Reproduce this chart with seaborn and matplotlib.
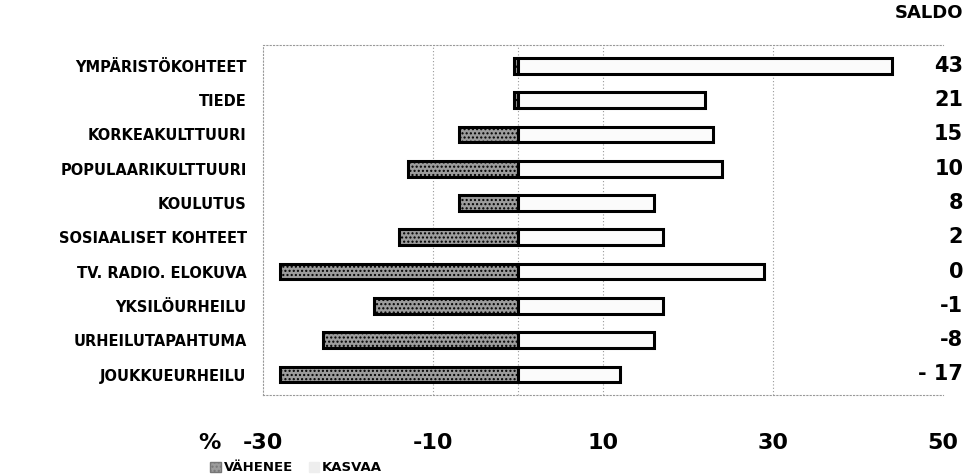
import matplotlib
matplotlib.use("Agg")
import matplotlib.pyplot as plt
import seaborn as sns
import pandas as pd
from matplotlib.patches import Patch

categories = ["YMPÄRISTÖKOHTEET", "TIEDE", "KORKEAKULTTUURI", "POPULAARIKULTTUURI",
              "KOULUTUS", "SOSIAALISET KOHTEET", "TV. RADIO. ELOKUVA", "YKSILÖURHEILU",
              "URHEILUTAPAHTUMA", "JOUKKUEURHEILU"]
vahenee = [0.5, 0.5, 7, 13, 7, 14, 28, 17, 23, 28]
kasvaa = [44, 22, 23, 24, 16, 17, 29, 17, 16, 12]
saldo = ["43", "21", "15", "10", "8", "2", "0", "-1", "-8", "- 17"]
xticks = [-30, -10, 10, 30, 50]

sns.set_theme(style="white")
plt.rcParams['font.family'] = ['DejaVu Sans']
plt.rcParams['text.color'] = 'black'
plt.rcParams['xtick.color'] = 'black'
plt.rcParams['ytick.color'] = 'black'

df = pd.DataFrame({"cat": categories, "dec": [-v for v in vahenee], "inc": kasvaa})

fig = plt.figure(figsize=(9.68, 4.76), dpi=100)
ax = fig.add_axes([0.272, 0.170, 0.702, 0.735])

sns.barplot(data=df, x="dec", y="cat", orient="h", color="#9c9c9c", edgecolor="black",
            linewidth=2.2, width=0.46, ax=ax, saturation=1, hatch="....")
sns.barplot(data=df, x="inc", y="cat", orient="h", color="#fbfbfb", edgecolor="black",
            linewidth=2.2, width=0.46, ax=ax, saturation=1)

ax.set_xlim(-30, 50)
ax.set_ylim(9.6, -0.6)
ax.set_xticks(xticks)
ax.set_xticklabels([str(t) for t in xticks], fontsize=16, fontweight="bold", color="black")
ax.tick_params(axis="x", length=0, pad=27)
ax.tick_params(axis="y", length=0, pad=12)
for lab in ax.get_yticklabels():
    lab.set_fontsize(10.5)
    lab.set_fontweight("bold")
    lab.set_color("black")
ax.set_xlabel("")
ax.set_ylabel("")
for x in [-10, 0, 10, 30]:
    ax.axvline(x, color="#999999", linestyle=(0, (1, 2)), linewidth=0.8, zorder=0)
for s in ax.spines.values():
    s.set_linestyle((0, (1, 2)))
    s.set_color("#999999")
    s.set_linewidth(0.8)
ax.spines["right"].set_visible(False)

fig.text(0.205, 0.069, "%", fontsize=16, fontweight="bold", ha="left", va="center", color="black")

fig.text(0.995, 0.972, "SALDO", fontsize=13, fontweight="bold", ha="right", va="center", color="black")
for i, s in enumerate(saldo):
    ax.text(1.03, i, s, transform=ax.get_yaxis_transform(), fontsize=15,
            fontweight="bold", ha="right", va="center", color="black")

handles = [Patch(facecolor="#9c9c9c", hatch="....", edgecolor="#777777", label="VÄHENEE"),
           Patch(facecolor="#eeeeee", edgecolor="#eeeeee", label="KASVAA")]
fig.legend(handles=handles, loc="center left", bbox_to_anchor=(0.205, 0.017), ncol=2,
           frameon=False, prop={"weight": "bold", "size": 9.5}, handlelength=0.8,
           handleheight=0.8, handletextpad=0.2, columnspacing=1.2, labelcolor="black")

fig.savefig("out.png", dpi=100)
